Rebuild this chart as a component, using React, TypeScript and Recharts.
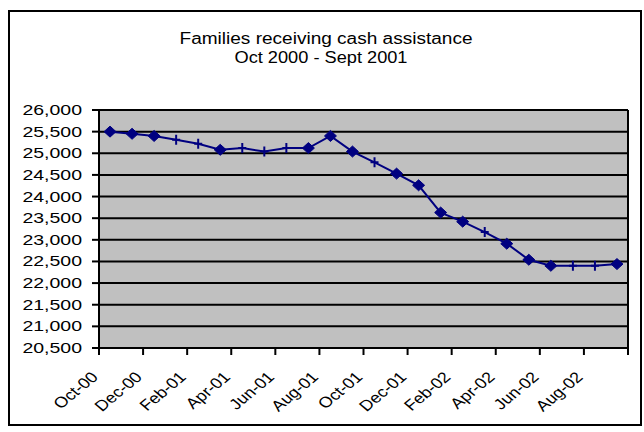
import { LineChart, Line, XAxis, YAxis, CartesianGrid, ReferenceLine } from 'recharts';

// Monthly caseload, Oct-00 through Sep-02
const months = [
  'Oct-00', 'Nov-00', 'Dec-00', 'Jan-01', 'Feb-01', 'Mar-01', 'Apr-01', 'May-01',
  'Jun-01', 'Jul-01', 'Aug-01', 'Sep-01', 'Oct-01', 'Nov-01', 'Dec-01', 'Jan-02',
  'Feb-02', 'Mar-02', 'Apr-02', 'May-02', 'Jun-02', 'Jul-02', 'Aug-02', 'Sep-02',
];

const familyCounts = [
  25500, 25450, 25400, 25310, 25220, 25080, 25120, 25040,
  25120, 25120, 25400, 25040, 24790, 24530, 24260, 23630,
  23420, 23180, 22910, 22540, 22400, 22400, 22400, 22440,
];

// marker used on each point
const markerShapes = [
  'diamond', 'diamond', 'diamond', 'plus', 'plus', 'diamond', 'plus', 'plus',
  'plus', 'diamond', 'diamond', 'diamond', 'plus', 'diamond', 'diamond', 'diamond',
  'diamond', 'plus', 'diamond', 'diamond', 'diamond', 'plus', 'plus', 'diamond',
];

// labels on every second month boundary, last boundary left blank
const xTickLabels = [
  'Oct-00', 'Dec-00', 'Feb-01', 'Apr-01', 'Jun-01', 'Aug-01',
  'Oct-01', 'Dec-01', 'Feb-02', 'Apr-02', 'Jun-02', 'Aug-02', '',
];

const yTicks = [
  20500, 21000, 21500, 22000, 22500, 23000, 23500, 24000, 24500, 25000, 25500, 26000,
];

const titleLines = ['Families receiving cash assistance', 'Oct 2000 - Sept 2001'];

const FONT = '"Liberation Sans", Arial, sans-serif';
const NAVY = '#000080';
const STRETCH = 1.3;

// each month sits in the middle of its slot on the date axis
const data = months.map((m, i) => ({ month: m, pos: i + 0.5, families: familyCounts[i] }));
const xTicks = xTickLabels.map((_, i) => i * 2);

const YTick = ({ x, y, payload }: any) => (
  <g transform={`translate(${x - 8},${y}) scale(${STRETCH},1)`}>
    <text x={0} y={0} dy="0.33em" textAnchor="end" fontSize={15} fontFamily={FONT} fill="#000">
      {payload.value.toLocaleString('en-US')}
    </text>
  </g>
);

const XTick = ({ x, y, payload }: any) => {
  const label = xTickLabels[Math.round(payload.value / 2)];
  return (
    <g transform={`translate(${x},${y + 21}) scale(1.2,1) rotate(-45)`}>
      <text x={0} y={0} textAnchor="end" fontSize={15} fontFamily={FONT} fill="#000">
        {label}
      </text>
    </g>
  );
};

const Marker = (props: any) => {
  const { cx, cy, index } = props;
  if (cx == null || cy == null) return null;
  if (markerShapes[index] === 'diamond') {
    return (
      <path
        key={`m-${index}`}
        d={`M${cx - 6},${cy} L${cx},${cy - 5.5} L${cx + 6},${cy} L${cx},${cy + 5.5} Z`}
        fill={NAVY}
        stroke={NAVY}
        strokeWidth={1}
      />
    );
  }
  return (
    <path
      key={`m-${index}`}
      d={`M${cx},${cy - 5} L${cx},${cy + 5} M${cx - 4},${cy} L${cx + 4},${cy}`}
      stroke={NAVY}
      strokeWidth={2}
      fill="none"
    />
  );
};

export default function App() {
  return (
    <div style={{ position: 'absolute', left: 0, top: 0, width: 644, height: 432, background: '#fff' }}>
      <svg width={644} height={432} style={{ position: 'absolute', left: 0, top: 0 }}>
        <rect x={9} y={11} width={632} height={414} fill="#fff" stroke="#000" strokeWidth={2} />
        <text x={326} y={44} textAnchor="middle" fontSize={16} fontFamily={FONT} fill="#000"
          textLength={293} lengthAdjust="spacingAndGlyphs">
          {titleLines[0]}
        </text>
        <text x={321} y={63} textAnchor="middle" fontSize={16} fontFamily={FONT} fill="#000"
          textLength={173} lengthAdjust="spacingAndGlyphs">
          {titleLines[1]}
        </text>
      </svg>
      <div style={{ position: 'absolute', left: 0, top: 0 }}>
        <LineChart width={644} height={432} data={data}
          margin={{ top: 110, right: 16, left: 39, bottom: 54 }}>
          <CartesianGrid fill="#C0C0C0" vertical={false} stroke="#000" strokeWidth={2} />
          <XAxis
            type="number"
            dataKey="pos"
            domain={[0, 24]}
            ticks={xTicks}
            interval={0}
            height={30}
            axisLine={{ stroke: '#000', strokeWidth: 2 }}
            tickLine={{ stroke: '#000', strokeWidth: 2 }}
            tickSize={7}
            tick={<XTick />}
          />
          <YAxis
            domain={[20500, 26000]}
            ticks={yTicks}
            interval={0}
            width={60}
            axisLine={{ stroke: '#000', strokeWidth: 2 }}
            tickLine={{ stroke: '#000', strokeWidth: 2 }}
            tickSize={7}
            tick={<YTick />}
          />
          <ReferenceLine x={24} stroke="#000" strokeWidth={2} />
          <Line
            type="linear"
            dataKey="families"
            stroke={NAVY}
            strokeWidth={2}
            dot={Marker}
            activeDot={false}
            isAnimationActive={false}
          />
        </LineChart>
      </div>
    </div>
  );
}
